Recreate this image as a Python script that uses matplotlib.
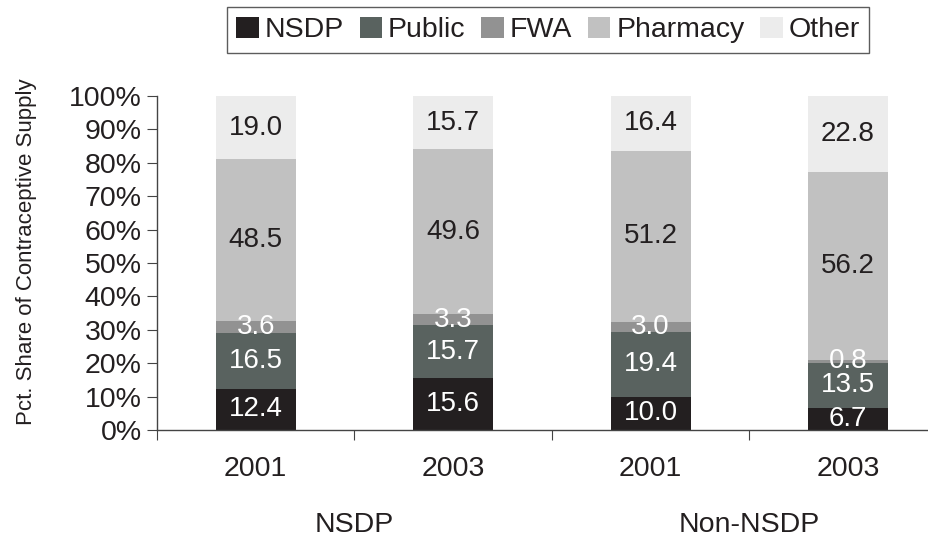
import matplotlib
matplotlib.use("Agg")
import matplotlib.pyplot as plt
import numpy as np

plt.rcParams['font.family'] = ['Liberation Sans', 'DejaVu Sans']

bars = ["2001", "2003", "2001", "2003"]
groups = ["NSDP", "Non-NSDP"]
series = ["NSDP", "Public", "FWA", "Pharmacy", "Other"]
nsdp = [12.4, 15.6, 10.0, 6.7]
public = [16.5, 15.7, 19.4, 13.5]
fwa = [3.6, 3.3, 3.0, 0.8]
pharmacy = [48.5, 49.6, 51.2, 56.2]
other = [19.0, 15.7, 16.4, 22.8]

values = [nsdp, public, fwa, pharmacy, other]
colors = ["#231f20", "#59625f", "#929292", "#c1c1c1", "#ececec"]
label_colors = ["white", "white", "white", "#231f20", "#231f20"]
txt = "#231f20"

fig = plt.figure(figsize=(9.29, 5.41), dpi=100)
ax = fig.add_axes([157/929, 111/541, 1 - 157/929, (430-96)/541])

x = np.arange(len(bars))
bottom = np.zeros(len(bars))
handles = []
for vals, c, lc, name in zip(values, colors, label_colors, series):
    v = np.array(vals)
    b = ax.bar(x, v, 0.405, bottom=bottom, color=c, label=name, edgecolor='none')
    handles.append(b)
    for xi, vi, bi in zip(x, v, bottom):
        ax.text(xi, bi + vi/2, f"{vi:.1f}", ha='center', va='center',
                fontsize=20, color=lc)
    bottom += v

ax.set_xlim(-0.5, 3.41)
ax.set_ylim(0, 100)
ax.set_yticks(np.arange(0, 101, 10))
ax.set_yticklabels([f"{t}%" for t in range(0, 101, 10)], fontsize=20.5, color=txt)
ax.set_xticks([-0.5, 0.5, 1.5, 2.5])
ax.set_xticklabels([])
ax.set_xticks(x, minor=True)
ax.set_xticklabels(bars, minor=True, fontsize=20.5, color=txt)
ax.tick_params(axis='x', which='minor', length=0, pad=19)
ax.tick_params(axis='x', which='major', length=7, direction='out', color='#444444')
ax.tick_params(axis='y', length=7, direction='out', color='#444444', pad=4)
for s in ['top', 'right']:
    ax.spines[s].set_visible(False)
for s in ['left', 'bottom']:
    ax.spines[s].set_color('#444444')
    ax.spines[s].set_linewidth(1.0)

ax.set_ylabel("Pct. Share of Contraceptive Supply", fontsize=16, color=txt)
ax.yaxis.set_label_coords(-0.156, 0.535)

for gx, g in zip([0.5, 2.5], groups):
    ax.text(gx, -28.5, g, ha='center', va='center', fontsize=20.5, color=txt)

leg = fig.legend(handles=handles, labels=series, loc='center', bbox_to_anchor=(548/929, 1 - 30/541),
                 ncol=5, fontsize=20.5, frameon=True, fancybox=False, edgecolor='#333333',
                 handlelength=0.8, handleheight=0.8, handletextpad=0.2, columnspacing=0.55,
                 borderpad=0.33, labelcolor=txt)
leg.get_frame().set_linewidth(1.0)

fig.savefig("out.png", dpi=100)
